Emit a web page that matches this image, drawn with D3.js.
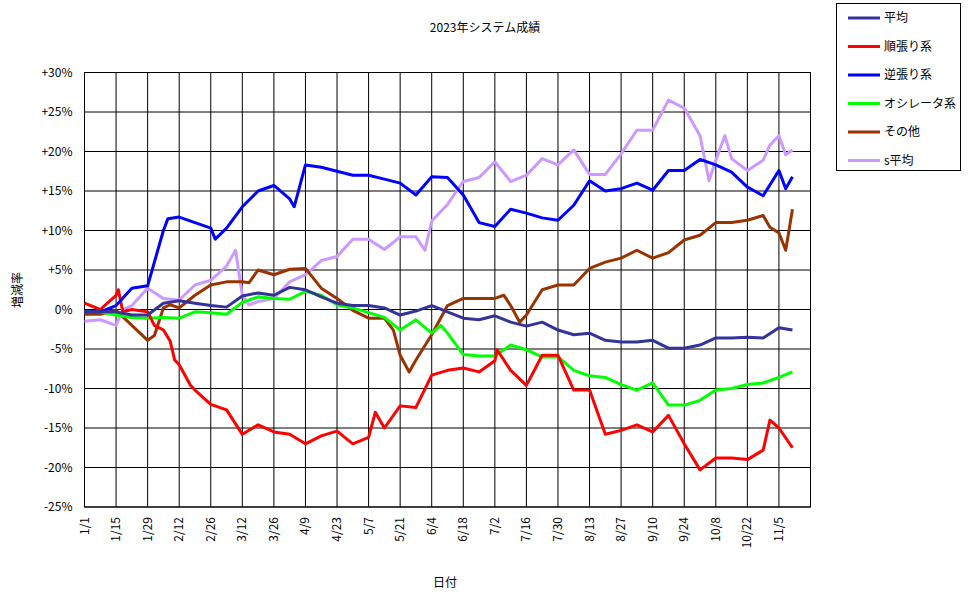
<!DOCTYPE html>
<html><head><meta charset="utf-8">
<script src="https://cdn.jsdelivr.net/npm/d3@7"></script>
<style>body{margin:0;background:#fff}text{font-family:"Noto Sans CJK JP","DejaVu Sans",sans-serif;font-size:12px}</style>
</head><body><svg id="c" width="976" height="599"></svg>
<script>
const seriesNames = ["平均","順張り系","逆張り系","オシレータ系","その他","s平均"];
const seriesColors = ["#333399","#ff0000","#0000ff","#00ff00","#993300","#cc99ff"];
const yTicks = [-25,-20,-15,-10,-5,0,5,10,15,20,25,30];
const avgDays = [0,7,14,21,28,35,42,49,56,63,70,77,84,91,98,105,112,119,126,133,140,147,154,161,168,175,182,189,196,203,210,217,224,231,238,245,252,259,266,273,280,287,294,301,308,314];
const avgVals = [-0.3,-0.3,-0.3,-0.7,-0.7,0.8,1.1,0.8,0.5,0.3,1.7,2.1,1.8,2.8,2.5,1.6,0.8,0.5,0.5,0.2,-0.7,-0.2,0.5,-0.3,-1.1,-1.3,-0.8,-1.6,-2.1,-1.6,-2.6,-3.2,-3,-3.9,-4.1,-4.1,-3.9,-4.9,-4.9,-4.5,-3.6,-3.6,-3.5,-3.6,-2.3,-2.6];
const junDays = [0,7,14,15,17,21,28,31,35,38,40,42,47,49,56,63,70,77,84,91,98,105,112,119,126,129,133,140,147,154,161,168,175,182,183,189,196,203,210,217,224,231,238,245,252,259,266,273,280,287,294,301,304,308,314];
const junVals = [0.8,0,1.8,2.5,-0.3,0,-0.3,-2,-2.6,-4,-6.4,-7,-9.6,-10.2,-12,-12.7,-15.8,-14.6,-15.5,-15.8,-17,-16,-15.4,-17,-16.2,-13,-15,-12.2,-12.4,-8.3,-7.7,-7.4,-7.9,-6.5,-5.1,-7.7,-9.6,-5.8,-5.8,-10.2,-10.2,-15.8,-15.3,-14.6,-15.5,-13.4,-17,-20.3,-18.8,-18.8,-19,-17.8,-14,-15,-17.5];
const gyaDays = [0,7,14,21,28,35,37,42,49,56,58,63,70,77,84,91,93,98,105,112,119,126,133,140,147,154,161,168,175,182,189,196,203,210,217,224,231,238,245,252,259,266,273,280,287,294,301,308,311,314];
const gyaVals = [-0.3,-0.3,0.5,2.7,3,10,11.5,11.7,11,10.3,8.9,10.3,13,15,15.7,14,13,18.3,18,17.5,17,17,16.5,16,14.5,16.8,16.7,14.5,11,10.5,12.7,12.2,11.6,11.3,13.2,16.3,15,15.3,16,15.1,17.6,17.6,19,18.3,17.4,15.5,14.4,17.6,15.3,16.8];
const oscDays = [0,7,14,21,28,35,42,49,56,63,70,77,84,91,98,105,112,119,126,133,140,147,154,158,161,168,175,182,189,196,203,210,217,224,231,238,245,252,259,266,273,280,287,294,301,308,314];
const oscVals = [-0.3,-0.3,-0.7,-1,-1.1,-1,-1.1,-0.3,-0.4,-0.6,0.9,1.6,1.4,1.3,2.3,1.8,0.6,0.2,-0.4,-1,-2.6,-1.3,-3,-2,-3,-5.7,-5.9,-5.9,-4.5,-5.1,-6,-6,-7.7,-8.4,-8.6,-9.5,-10.2,-9.3,-12.1,-12.1,-11.5,-10.2,-10,-9.5,-9.3,-8.6,-7.9];
const othDays = [0,7,14,21,28,31,35,38,42,49,56,63,70,73,77,84,91,98,105,112,119,126,133,137,140,144,147,154,161,168,175,182,186,189,193,196,203,210,217,224,231,238,245,252,259,266,273,280,287,294,301,304,308,311,314];
const othVals = [-0.6,-0.6,-0.1,-2,-3.9,-3.3,0.2,0.6,0.2,1.8,3.1,3.5,3.5,3.4,5,4.4,5.1,5.2,2.7,1.4,-0.1,-1.1,-1.1,-2.6,-5.8,-7.9,-6.4,-3.2,0.5,1.4,1.4,1.4,1.8,0.5,-1.6,-0.7,2.5,3.1,3.1,5.2,6,6.5,7.5,6.5,7.2,8.8,9.4,11,11,11.3,11.9,10.4,9.7,7.5,12.7];
const savDays = [0,7,14,17,21,28,35,42,49,56,63,67,70,73,77,84,91,98,105,112,119,126,133,140,147,151,154,161,168,175,182,189,196,203,210,217,224,231,238,245,252,259,266,273,277,280,284,287,294,301,304,308,311,314];
const savVals = [-1.5,-1.3,-2,0,0.5,2.7,1.4,1.2,3.1,3.7,5.5,7.5,1.8,0.6,1,1.4,3.5,4.4,6.2,6.7,8.9,8.9,7.6,9.2,9.2,7.5,11.2,13.3,16.2,16.7,18.7,16.2,17,19.1,18.3,20.2,17.1,17.1,19.7,22.7,22.7,26.5,25.5,22,16.3,18.9,22,19.1,17.6,18.9,20.8,22,19.6,20.2];
const allDays = [avgDays,junDays,gyaDays,oscDays,othDays,savDays];
const allVals = [avgVals,junVals,gyaVals,oscVals,othVals,savVals];

const svg = d3.select("#c");
const L=84.5,R=810.5,T=72.5,B=507;
const start = new Date(2023,0,1);
const x = d3.scaleTime().domain([start, d3.timeDay.offset(start,322)]).range([L,R]);
const y = d3.scaleLinear().domain([-25,30]).range([B,T]);
const tickDates = d3.range(0,322,14).map(d=>d3.timeDay.offset(start,d));

const g = svg.append("g");
tickDates.forEach(d=>g.append("line").attr("x1",x(d)).attr("x2",x(d)).attr("y1",T).attr("y2",B).attr("stroke","#000"));
yTicks.forEach(v=>g.append("line").attr("x1",L).attr("x2",R).attr("y1",y(v)).attr("y2",y(v)).attr("stroke","#000"));
g.append("rect").attr("x",L).attr("y",T).attr("width",R-L).attr("height",B-T).attr("fill","none").attr("stroke","#000");

yTicks.forEach(v=>svg.append("text").attr("x",L-12).attr("y",y(v)+4).attr("text-anchor","end").text((v>0?"+":"")+v+"%"));
tickDates.forEach(d=>svg.append("text").attr("transform",`translate(${x(d)+4},${B+10}) rotate(-90)`).attr("text-anchor","end").text((d.getMonth()+1)+"/"+d.getDate()));

const line = d3.line().x(p=>x(p[0])).y(p=>y(p[1]));
[5,4,3,1,2,0].forEach(i=>{
  const pts = allDays[i].map((d,k)=>[d3.timeDay.offset(start,d),allVals[i][k]]);
  svg.append("path").attr("d",line(pts)).attr("fill","none").attr("stroke",seriesColors[i]).attr("stroke-width",3).attr("stroke-linejoin","round");
});

svg.append("text").attr("x",485).attr("y",32).attr("text-anchor","middle").text("2023年システム成績");
svg.append("text").attr("x",445).attr("y",587).attr("text-anchor","middle").text("日付");
svg.append("text").attr("transform","translate(22,290) rotate(-90)").attr("text-anchor","middle").text("増減率");

const lg = svg.append("g");
lg.append("rect").attr("x",836.5).attr("y",3.5).attr("width",124).attr("height",167).attr("fill","#fff").attr("stroke","#000");
seriesNames.forEach((n,i)=>{
  const yy = 18+i*28.5;
  lg.append("line").attr("x1",848).attr("x2",880).attr("y1",yy).attr("y2",yy).attr("stroke",seriesColors[i]).attr("stroke-width",3);
  lg.append("text").attr("x",884).attr("y",yy+4).text(n);
});
</script></body></html>
